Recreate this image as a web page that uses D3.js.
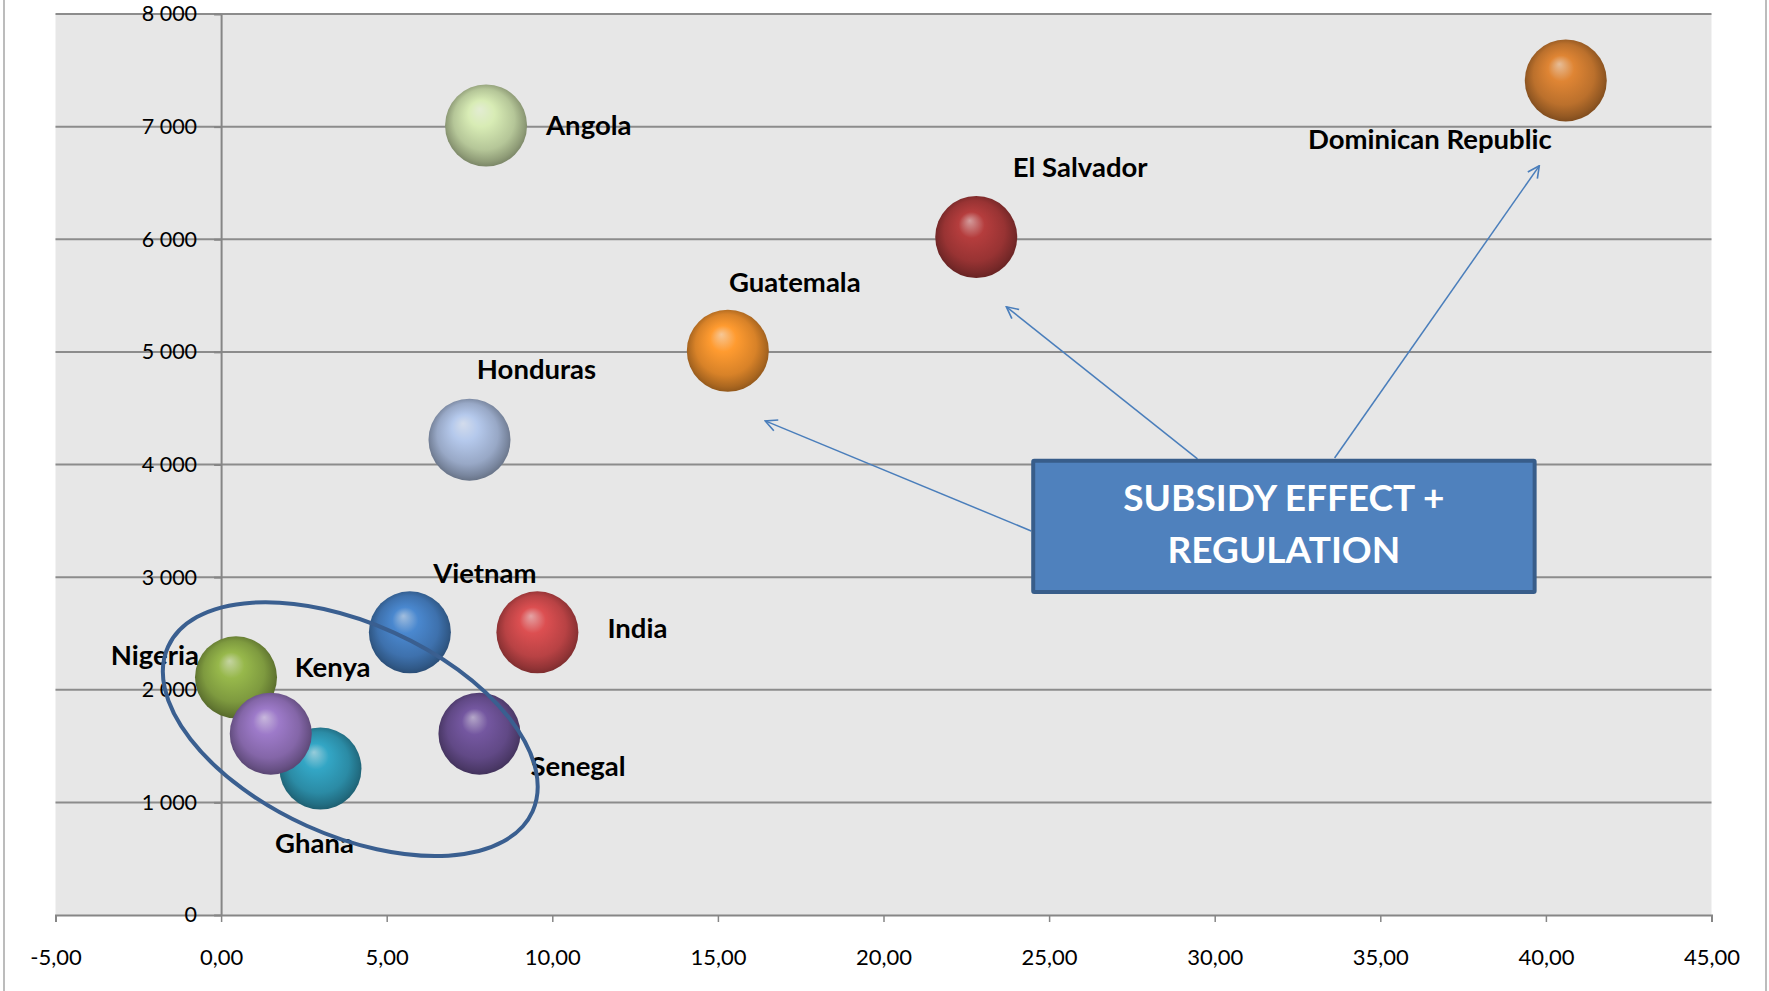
<!DOCTYPE html>
<html>
<head>
<meta charset="utf-8">
<script src="https://cdn.jsdelivr.net/npm/d3@7"></script>
<style>
  html, body { margin: 0; padding: 0; background: #fff; }
  svg { display: block; }
  text { font-family: Lato, "Open Sans", sans-serif; }
</style>
</head>
<body>
<svg id="chart" width="1769" height="991"></svg>
<script>
// --- data ---
var countries = ["Nigeria", "Ghana", "Kenya", "Vietnam", "India", "Senegal", "Honduras", "Angola", "Guatemala", "El Salvador", "Dominican Republic"];
var xValues = [0.45, 3.0, 1.5, 5.7, 9.55, 7.8, 7.5, 8.0, 15.3, 22.8, 40.6];
var yValues = [2110, 1300, 1610, 2510, 2510, 1610, 4220, 7010, 5010, 6020, 7410];
var bubbleColors = ["#8aa845", "#2f98b4", "#9070b8", "#447cbd", "#c9484a", "#6a5092", "#a6b8d8", "#c6d8a6", "#ec8e2c", "#a63838", "#cc7a30"];
var xTicks = [-5, 0, 5, 10, 15, 20, 25, 30, 35, 40, 45];
var yTicks = [0, 1000, 2000, 3000, 4000, 5000, 6000, 7000, 8000];

// label placement relative to bubble centre (layout, not data)
var labelPlacement = [
  {anchor: "end", dx: -37, dy: -12},
  {anchor: "middle", dx: -6, dy: 84},
  {anchor: "start", dx: 24, dy: -57},
  {anchor: "middle", dx: 75, dy: -49},
  {anchor: "start", dx: 70, dy: 6},
  {anchor: "start", dx: 51, dy: 42},
  {anchor: "middle", dx: 67, dy: -61},
  {anchor: "start", dx: 60, dy: 10},
  {anchor: "middle", dx: 67, dy: -59},
  {anchor: "middle", dx: 104, dy: -60},
  {anchor: "end", dx: -14, dy: 69}
];

var svg = d3.select("#chart");
var x = d3.scaleLinear().domain([-5, 45]).range([55.5, 1711.5]);
var y = d3.scaleLinear().domain([0, 8000]).range([915, 14]);
var radius = 41;
var fmtX = function (d) { return d3.format(".2f")(d).replace(".", ",").replace("\u2212", "-"); };
var fmtY = function (d) { return d3.format(",")(d).replace(/,/g, " "); };

// outer frame lines
svg.append("line").attr("x1", 4).attr("x2", 4).attr("y1", 0).attr("y2", 991).attr("stroke", "#a6a6a6").attr("stroke-width", 1.5);
svg.append("line").attr("x1", 1766).attr("x2", 1766).attr("y1", 0).attr("y2", 991).attr("stroke", "#a6a6a6").attr("stroke-width", 1.5);

// plot area
svg.append("rect")
  .attr("x", x(-5)).attr("y", y(8000))
  .attr("width", x(45) - x(-5)).attr("height", y(0) - y(8000))
  .attr("fill", "#e7e7e7");

// horizontal gridlines
svg.append("g").selectAll("line")
  .data(yTicks.filter(function (d) { return d > 0; }))
  .join("line")
  .attr("x1", x(-5)).attr("x2", x(45))
  .attr("y1", function (d) { return y(d); }).attr("y2", function (d) { return y(d); })
  .attr("stroke", "#8c8c8c").attr("stroke-width", 2);

// x axis on y = 0
var xAxis = svg.append("g")
  .attr("transform", "translate(0," + y(0) + ")")
  .call(d3.axisBottom(x).tickValues(xTicks).tickFormat(fmtX).tickSize(7).tickPadding(27));
xAxis.select(".domain").attr("stroke", "#868686").attr("stroke-width", 2);
xAxis.selectAll(".tick line").attr("stroke", "#868686").attr("stroke-width", 1.5);
xAxis.selectAll(".tick text").attr("font-size", 22).attr("fill", "#000").style("font-family", "Lato, sans-serif");

// y axis on x = 0
var yAxis = svg.append("g")
  .attr("transform", "translate(" + x(0) + ",0)")
  .call(d3.axisLeft(y).tickValues(yTicks).tickFormat(fmtY).tickSize(7).tickSizeOuter(0).tickPadding(17));
yAxis.select(".domain").attr("stroke", "#868686").attr("stroke-width", 2);
yAxis.selectAll(".tick line").attr("stroke", "#868686").attr("stroke-width", 2);
yAxis.selectAll(".tick text").attr("font-size", 21.5).attr("fill", "#000").style("font-family", "Lato, sans-serif");

// sphere gradients
var defs = svg.append("defs");
bubbleColors.forEach(function (c, i) {
  var base = d3.color(c);
  var g = defs.append("radialGradient").attr("id", "ball" + i)
    .attr("cx", "50%").attr("cy", "48%").attr("r", "53%")
    .attr("fx", "42%").attr("fy", "30%");
  g.append("stop").attr("offset", "0%").attr("stop-color", d3.interpolateRgb(c, "#ffffff")(0.5));
  g.append("stop").attr("offset", "30%").attr("stop-color", base.brighter(0.25));
  g.append("stop").attr("offset", "70%").attr("stop-color", base.darker(0.25));
  g.append("stop").attr("offset", "90%").attr("stop-color", base.darker(0.9));
  g.append("stop").attr("offset", "100%").attr("stop-color", base.darker(1.4));
});

// bubbles
svg.append("g").selectAll("circle")
  .data(countries)
  .join("circle")
  .attr("cx", function (d, i) { return x(xValues[i]); })
  .attr("cy", function (d, i) { return y(yValues[i]); })
  .attr("r", radius)
  .attr("fill", function (d, i) { return "url(#ball" + i + ")"; });

// data labels
svg.append("g").selectAll("text")
  .data(countries)
  .join("text")
  .attr("x", function (d, i) { return x(xValues[i]) + labelPlacement[i].dx; })
  .attr("y", function (d, i) { return y(yValues[i]) + labelPlacement[i].dy; })
  .attr("text-anchor", function (d, i) { return labelPlacement[i].anchor; })
  .attr("font-size", 27.5).attr("font-weight", "bold").attr("fill", "#000")
  .text(function (d) { return d; });

// ellipse round the low-cost group
svg.append("ellipse")
  .attr("cx", 0).attr("cy", 0).attr("rx", 200).attr("ry", 106)
  .attr("transform", "translate(" + x(3.9) + "," + y(1650) + ") rotate(24.3)")
  .attr("fill", "none").attr("stroke", "#3a5f90").attr("stroke-width", 4);

// arrows from the callout box
var arrowColor = "#4a7ebb";
defs.append("marker").attr("id", "openArrow")
  .attr("viewBox", "0 0 12 12").attr("refX", 11).attr("refY", 6)
  .attr("markerWidth", 14).attr("markerHeight", 14).attr("markerUnits", "userSpaceOnUse")
  .attr("orient", "auto")
  .append("path").attr("d", "M1,1 L11,6 L1,11").attr("fill", "none")
  .attr("stroke", arrowColor).attr("stroke-width", 1.4);

var arrows = [
  {from: [24.46, 3410], to: [16.43, 4387]},
  {from: [29.48, 4050], to: [23.71, 5400]},
  {from: [33.62, 4058], to: [39.8, 6652]}
];
svg.append("g").selectAll("line")
  .data(arrows)
  .join("line")
  .attr("x1", function (d) { return x(d.from[0]); }).attr("y1", function (d) { return y(d.from[1]); })
  .attr("x2", function (d) { return x(d.to[0]); }).attr("y2", function (d) { return y(d.to[1]); })
  .attr("stroke", arrowColor).attr("stroke-width", 1.5)
  .attr("marker-end", "url(#openArrow)");

// callout box
var box = svg.append("g");
box.append("rect")
  .attr("x", x(24.46) + 2).attr("y", y(4050) + 2)
  .attr("width", x(39.72) - x(24.46) - 4).attr("height", y(2851) - y(4050) - 4)
  .attr("fill", "#4f81bd").attr("stroke", "#385d8a").attr("stroke-width", 4).attr("rx", 1);
box.selectAll("text")
  .data(["SUBSIDY EFFECT +", "REGULATION"])
  .join("text")
  .attr("x", (x(24.46) + x(39.72)) / 2)
  .attr("y", function (d, i) { return 511 + i * 52; })
  .attr("text-anchor", "middle")
  .attr("font-size", 37).attr("font-weight", "bold").attr("fill", "#fff")
  .text(function (d) { return d; });
</script>
</body>
</html>
